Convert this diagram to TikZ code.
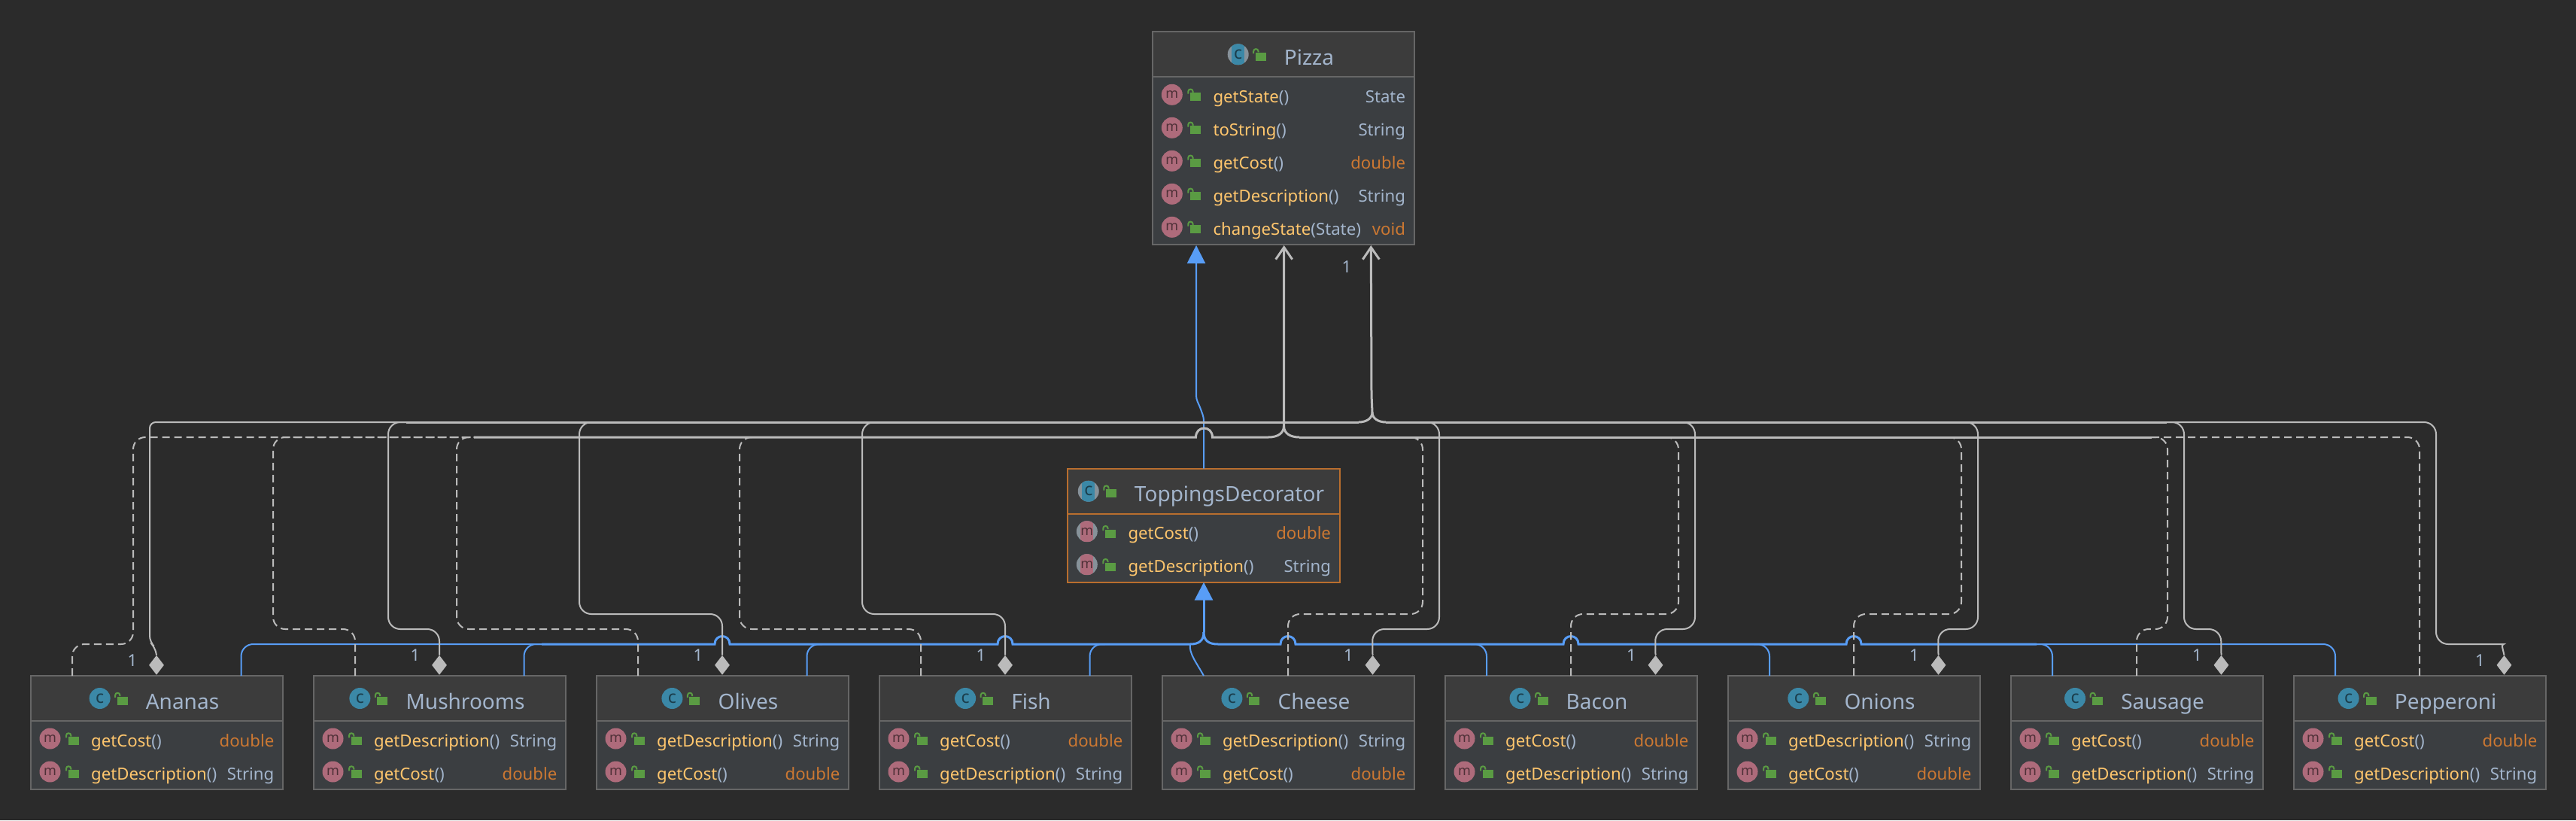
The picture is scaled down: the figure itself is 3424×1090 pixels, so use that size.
\documentclass[tikz,border=0pt]{standalone}
\usepackage{fontspec}
\setmainfont{Noto Sans}
\usetikzlibrary{calc,arrows.meta,shapes.geometric}

\definecolor{pagebg}{HTML}{2B2B2B}
\definecolor{headfill}{HTML}{3C3C3C}
\definecolor{rowfill}{HTML}{3B3E41}
\definecolor{edgegray}{HTML}{666666}
\definecolor{edgepick}{HTML}{B96E2E}
\definecolor{linegray}{HTML}{BBBBBB}
\definecolor{lineblue}{HTML}{589DF6}
\definecolor{mthcol}{HTML}{FFC66D}
\definecolor{typecol}{HTML}{A3B5CC}
\definecolor{primcol}{HTML}{CC7832}
\definecolor{iconteal}{HTML}{3B88A7}
\definecolor{iconpink}{HTML}{AE6B7B}
\definecolor{iconring}{HTML}{87929A}
\definecolor{locknew}{HTML}{5A9B43}

\tikzset{
  classbody/.style={draw=#1,line width=2pt,fill=rowfill,anchor=north west,inner sep=0pt,outer sep=0pt},
  classhead/.style={draw=#1,line width=2pt,fill=headfill,anchor=north west,inner sep=0pt,outer sep=0pt,minimum height=60pt},
  titletext/.style={inner sep=0pt,anchor=base,text=typecol,font=\fontsize{28}{30}\selectfont},
  mthtext/.style={inner sep=0pt,anchor=base west,font=\fontsize{22.2}{26}\selectfont},
  typetext/.style={inner sep=0pt,anchor=base east,font=\fontsize{22.2}{26}\selectfont},
  classicon/.style={circle,minimum size=28pt,inner sep=0pt,fill=iconteal,text=iconteal!45!black,font=\fontsize{23}{23}\selectfont},
  methodicon/.style={circle,minimum size=28pt,inner sep=0pt,fill=iconpink,text=iconpink!45!black,font=\fontsize{18}{18}\selectfont},
  classiconab/.style={classicon,fill=iconring,path picture={\fill[iconteal] ([xshift=-8.5pt]path picture bounding box.north) rectangle ([xshift=8.5pt]path picture bounding box.south);}},
  methodiconab/.style={methodicon,fill=iconring,path picture={\fill[iconpink] ([xshift=-8.5pt]path picture bounding box.north) rectangle ([xshift=8.5pt]path picture bounding box.south);}},
  lockbody/.style={fill=locknew,minimum width=14pt,minimum height=11pt,inner sep=0pt},
  lockarc/.style={draw=locknew,line width=2pt},
  compline/.style={draw=linegray,line width=2pt,rounded corners=16pt},
  depline/.style={compline,dash pattern=on 10pt off 6pt},
  genline/.style={draw=lineblue,line width=2pt,rounded corners=16pt},
  compbus/.style={draw=linegray,line width=3pt},
  genbus/.style={draw=lineblue,line width=3pt},
  barbtip/.style={-{Straight Barb[length=16pt,width=22pt]}},
  gentip/.style={-{Triangle[length=24pt,width=24pt]}},
  compdiamond/.style={diamond,fill=linegray,minimum width=20pt,minimum height=26pt,inner sep=0pt,anchor=south},
  multlabel/.style={inner sep=0pt,text=typecol,font=\fontsize{22}{26}\selectfont}
}

% name, left, top, width, rows, title, edge colour, icon style
\newcommand{\classbox}[8]{
  \node[classbody=#7,minimum width=#4pt,minimum height=63pt+44pt*#5] (#1) at (#2,#3) {};
  \node[classhead=#7,minimum width=#4pt] (#1-h) at (#1.north west) {};
  \node[titletext] (#1-t) at ($(#1.north)+(34,44)$) {#6};
  \node[#8] (#1-ic) at ($(#1-t.base west)+(-61,-14)$) {c};
  \node[lockbody] (#1-lk) at ($(#1-t.base west)+(-31,-11)$) {};
  \draw[lockarc] (#1-lk.north west) ++(-2.3,1.5) -- ++(0,-3) .. controls +(0,-4) and +(0,-4) .. ++(6.3,0) -- ++(0,1.2);
}
% box, row, icon style, method, args, type, type colour
\newcommand{\classrow}[7]{
  \pgfmathsetmacro{\rowbase}{94+44*(#2-1)}
  \node[#3] (#1-m#2) at ($(#1.north west)+(25.5,\rowbase-10.5)$) {m};
  \node[lockbody] (#1-l#2) at ($(#1.north west)+(56.5,\rowbase-7.5)$) {};
  \draw[lockarc] (#1-l#2.north west) ++(-2.3,1.5) -- ++(0,-3) .. controls +(0,-4) and +(0,-4) .. ++(6.3,0) -- ++(0,1.2);
  \node[mthtext] (#1-n#2) at ($(#1.north west)+(80,\rowbase)$) {\color{mthcol}#4\color{typecol}#5};
  \node[typetext,text=#7] (#1-v#2) at ($(#1.north east)+(-11.5,\rowbase)$) {#6};
}
\newcommand{\rowcost}[3]{\classrow{#1}{#2}{#3}{getCost}{()}{double}{primcol}}
\newcommand{\rowdesc}[3]{\classrow{#1}{#2}{#3}{getDescription}{()}{String}{typecol}}
% line hop at x, y
\newcommand{\hopat}[4]{-- (#1-#3,#2) .. controls (#1-#3,#2-#4) and (#1+#3,#2-#4) .. (#1+#3,#2)}

\begin{document}
\begin{tikzpicture}[x=1pt,y=-1pt]
\useasboundingbox (0,0) rectangle (3424,1090);
\fill[pagebg] (0,0) rectangle (3424,1090);

\classbox{pizza}{1532.3}{42.3}{347.4}{5}{Pizza}{edgegray}{classiconab}
\classrow{pizza}{1}{methodicon}{getState}{()}{State}{typecol}
\classrow{pizza}{2}{methodicon}{toString}{()}{String}{typecol}
\classrow{pizza}{3}{methodicon}{getCost}{()}{double}{primcol}
\classrow{pizza}{4}{methodicon}{getDescription}{()}{String}{typecol}
\classrow{pizza}{5}{methodicon}{changeState}{(State)}{void}{primcol}

\classbox{decor}{1419.3}{622.7}{361.4}{2}{ToppingsDecorator}{edgepick}{classiconab}
\rowcost{decor}{1}{methodiconab}
\rowdesc{decor}{2}{methodiconab}

\foreach \nm/\xx/\ttl/\rowa/\rowb in {ananas/41/Ananas/\rowcost/\rowdesc,
    mushrooms/417/Mushrooms/\rowdesc/\rowcost,
    olives/793/Olives/\rowdesc/\rowcost,
    fish/1169/Fish/\rowcost/\rowdesc,
    cheese/1545/Cheese/\rowdesc/\rowcost,
    bacon/1921/Bacon/\rowcost/\rowdesc,
    onions/2297/Onions/\rowdesc/\rowcost,
    sausage/2673/Sausage/\rowcost/\rowdesc,
    pepperoni/3049/Pepperoni/\rowcost/\rowdesc}{
  \classbox{\nm}{\xx}{898}{335}{2}{\ttl}{edgegray}{classicon}
  \rowa{\nm}{1}{methodicon}
  \rowb{\nm}{2}{methodicon}
  \coordinate (\nm-a) at ($(\nm.north west)+(55,0)$);
  \coordinate (\nm-b) at ($(\nm.north west)+(167,0)$);
  \coordinate (\nm-c) at ($(\nm.north west)+(279.5,0)$);
}

\foreach \nm/\pt/\ly in {ananas/b/-19,mushrooms/b/-26,olives/b/-26,fish/b/-26,cheese/c/-26,
    bacon/c/-26,onions/c/-26,sausage/c/-26,pepperoni/c/-19}{
  \node[compdiamond] (dia-\nm) at ([yshift=1pt]\nm-\pt) {};
  \node[multlabel] (one-\nm) at ($(dia-\nm.south)+(-32,\ly)$) {1};
}
\node[multlabel] (one-pizza) at (1790,355) {1};

% ends on the buses
\coordinate (pz-gen) at (1590,326);
\coordinate (pz-dep) at (1706.7,326);
\coordinate (pz-comp) at (1822.3,326);
\coordinate (compj) at (1824,548);
\coordinate (compl) at (1806,561);
\coordinate (compr) at (1842,561);
\coordinate (depj) at (1706.5,566);
\coordinate (depl) at (1686,581);
\coordinate (depr) at (1727,581);
\coordinate (genj) at (1600,840);
\coordinate (genl) at (1582,856);
\coordinate (genr) at (1619,856);
\foreach \nm/\xx in {ananas/540,mushrooms/540,olives/790,fish/1166,cheese/1890,bacon/2230,onions/2606,sausage/2880,pepperoni/2880}
  \coordinate (comp-\nm) at (\xx,561);
\foreach \nm/\xx in {ananas/630,mushrooms/630,olives/630,fish/1005,cheese/1870,bacon/2210,onions/2586,sausage/2860,pepperoni/2860}
  \coordinate (dep-\nm) at (\xx,581);
\foreach \nm/\xx in {ananas/720,mushrooms/720,olives/1093,fish/1469,bacon/1955,onions/2331,sausage/2707,pepperoni/2707}
  \coordinate (gen-\nm) at (\xx,856);

% generalization
\draw[genline] (ananas-c) -- (320.5,856) -- (gen-ananas);
\draw[genline] (mushrooms-c) -- (696.5,856) -- (gen-mushrooms);
\draw[genline] (olives-c) -- (1072.5,856) -- (gen-olives);
\draw[genline] (fish-c) -- (1448.5,856) -- (gen-fish);
\draw[genline,rounded corners=0pt] (cheese-a) .. controls (1590,880) and (1580,868) .. (genl);
\draw[genline] (bacon-a) -- (1976,856) -- (gen-bacon);
\draw[genline] (onions-a) -- (2352,856) -- (gen-onions);
\draw[genline] (sausage-a) -- (2728,856) -- (gen-sausage);
\draw[genline] (pepperoni-a) -- (3104,856) -- (gen-pepperoni);
\draw[genbus] (gen-ananas) \hopat{960}{856}{10}{14} \hopat{1336}{856}{10}{14} -- (genl);
\draw[genbus] (genr) \hopat{1712}{856}{10}{14} \hopat{2088}{856}{10}{14} \hopat{2464}{856}{10}{14} -- (gen-sausage);
\draw[genbus] (genl) .. controls (1594,856) and (1600,851) .. (genj);
\draw[genbus] (genr) .. controls (1606,856) and (1600,851) .. (genj);
\draw[genbus,gentip] (genj) -- (decor.south);
\draw[genline,gentip,rounded corners=4pt] (decor.north) -- (1600,555) -- (1595,541) -- (1590,530) -- (pz-gen);

% dependency
\draw[depline] (ananas-a) -- (96,856) -- (177,856) -- (177,581) -- (dep-ananas);
\draw[depline] (mushrooms-a) -- (472,836) -- (363,836) -- (363,581) -- (dep-mushrooms);
\draw[depline] (olives-a) -- (848,836) -- (607,836) -- (607,581) -- (dep-olives);
\draw[depline] (fish-a) -- (1224,836) -- (983,836) -- (983,581) -- (dep-fish);
\draw[depline] (cheese-b) -- (1712,816) -- (1891,816) -- (1891,581) -- (dep-cheese);
\draw[depline] (bacon-b) -- (2088,816) -- (2231,816) -- (2231,581) -- (dep-bacon);
\draw[depline] (onions-b) -- (2464,816) -- (2607,816) -- (2607,581) -- (dep-onions);
\draw[depline] (sausage-b) -- (2840,836) -- (2881,836) -- (2881,581) -- (dep-sausage);
\draw[depline] (pepperoni-b) -- (3216,581) -- (dep-pepperoni);
\draw[compbus] (dep-ananas) \hopat{1600.5}{581}{11}{16} -- (depl);
\draw[compbus] (depr) -- (dep-sausage);
\draw[compbus] (depl) .. controls (1698,581) and (1706.5,576) .. (depj);
\draw[compbus] (depr) .. controls (1715,581) and (1706.5,576) .. (depj);
\draw[compbus,barbtip] (depj) -- (pz-dep);

% composition
\draw[compline,rounded corners=8pt] (dia-ananas.north) -- (206,860) -- (199,853) -- (199,561) -- (comp-ananas);
\draw[compline] (dia-mushrooms.north) -- (584,836) -- (516,836) -- (516,561) -- (comp-mushrooms);
\draw[compline] (dia-olives.north) -- (960,816) -- (770,816) -- (770,561) -- (comp-olives);
\draw[compline] (dia-fish.north) -- (1336,816) -- (1146,816) -- (1146,561) -- (comp-fish);
\draw[compline] (dia-cheese.north) -- (1824,836) -- (1913,836) -- (1913,561) -- (comp-cheese);
\draw[compline] (dia-bacon.north) -- (2200,836) -- (2253,836) -- (2253,561) -- (comp-bacon);
\draw[compline] (dia-onions.north) -- (2576,836) -- (2629,836) -- (2629,561) -- (comp-onions);
\draw[compline] (dia-sausage.north) -- (2952,836) -- (2903,836) -- (2903,561) -- (comp-sausage);
\draw[compline] (dia-pepperoni.north) .. controls (3327,863) and (3324,856) .. (3312,856) -- (3238,856) -- (3238,561) -- (comp-pepperoni);
\draw[compbus] (comp-ananas) -- (compl);
\draw[compbus] (compr) -- (comp-sausage);
\draw[compbus] (compl) .. controls (1816,561) and (1824,556) .. (compj);
\draw[compbus] (compr) .. controls (1832,561) and (1824,556) .. (compj);
\draw[compbus,barbtip] (compj) -- (1823,525) -- (pz-comp);

\end{tikzpicture}
\end{document}
